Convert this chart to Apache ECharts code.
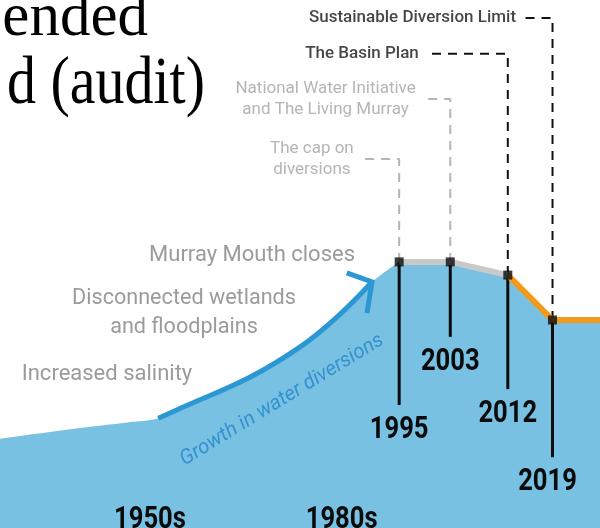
<!DOCTYPE html>
<html><head><meta charset="utf-8">
<script src="https://cdn.jsdelivr.net/npm/echarts@6/dist/echarts.min.js"></script>
<style>html,body{margin:0;padding:0;background:#fff}#c{width:600px;height:528px}</style>
</head><body><div id="c"></div>
<script>
// ---- data (relative diversion index over time) ----
const diversionYears = [1930, 1943.0, 1953.3, 1957.3, 1961.2, 1971.7, 1979.5, 1985.3, 1990.75, 1995];
const diversionIndex = [16.5, 18.6, 20.1, 20.8, 22.9, 28.6, 34.3, 40.0, 46.6, 50.4];
const policyYears = [1995, 2003, 2012, 2019, 2030];
const policyIndex = [50.4, 50.4, 47.9, 39.4, 39.4];
const milestoneYears = [1995, 2003, 2012, 2019];
const milestoneLabels = ['1995', '2003', '2012', '2019'];
const policyNames = ['The cap on\ndiversions', 'National Water Initiative\nand The Living Murray', 'The Basin Plan', 'Sustainable Diversion Limit'];
const decadeLabels = ['1950s', '1980s'];
const decadeYears = [1956, 1986];
const impactLabels = ['Murray Mouth closes', 'Disconnected wetlands\nand floodplains', 'Increased salinity'];
const growthLabel = 'Growth in water diversions';
const titleFragments = ['ended', 'd (audit)'];

// ---- layout (annotation geometry, in axis units) ----
const layout = {
  xMin: 1932.53, xMax: 2026.43,
  stemEnds: [23.3, 36.2, 26.3, 13.4],
  leaderTops: [69.9, 81.25, 89.8, 96.6],
  leaderLeft: [1989.3, 1999.0, 2000.1, 2014.7],
  leaderColors: ['#b5b5b5', '#b5b5b5', '#111', '#111'],
  policyColors: ['#a3a3a3', '#a3a3a3', '#161616', '#161616'],
  policyWeights: ['normal', 'normal', 500, 500],
  policyGap: [9, 9, 13, 9],
  yearShift: [0, 0, 0, -5],
  arrowFrom: 3, arrowTo: 8,
  arrowHead: [[1986.8, 48.3], [1990.75, 46.6], [1989.96, 40.7]],
  decadeY: 1.6
};

const SANS = "Roboto, 'Noto Sans', sans-serif";
const BLUE = '#79c1e3', ARROW = '#2b97d3';

const zip = (xs, ys) => xs.map((x, i) => [x, ys[i]]);
const divData = zip(diversionYears, diversionIndex);
const polData = zip(policyYears, policyIndex);
const valAt = y => policyIndex[policyYears.indexOf(y)];

const series = [];
const base = {type: 'line', symbol: 'none', silent: true, animation: false};
series.push(Object.assign({}, base, {data: divData, smooth: 0.4, lineStyle: {width: 0}, areaStyle: {color: BLUE, opacity: 1}, z: 1}));
// straight segment area, overlapping the last smooth segment to avoid a seam
series.push(Object.assign({}, base, {data: [divData[divData.length - 2]].concat(polData), lineStyle: {width: 0}, areaStyle: {color: BLUE, opacity: 1}, z: 1}));
series.push(Object.assign({}, base, {data: divData.slice(layout.arrowFrom, layout.arrowTo + 1), smooth: 0.4, lineStyle: {width: 5, color: ARROW, cap: 'butt'}, z: 3}));
series.push(Object.assign({}, base, {data: layout.arrowHead, lineStyle: {width: 5, color: ARROW, join: 'miter'}, z: 3}));
milestoneYears.forEach((yr, i) => {
  series.push(Object.assign({}, base, {
    data: [[yr, valAt(yr)], [yr, layout.leaderTops[i]], [layout.leaderLeft[i], layout.leaderTops[i]]],
    lineStyle: {width: 2, color: layout.leaderColors[i], type: [9, 7]}, z: 2
  }));
  series.push(Object.assign({}, base, {
    data: [[yr, valAt(yr)], [yr, layout.stemEnds[i]]],
    lineStyle: {width: 3, color: '#0d0d0d'}, z: 4
  }));
});
series.push(Object.assign({}, base, {data: polData.slice(0, 3), lineStyle: {width: 6, color: '#c9c9c9'}, z: 5}));
series.push(Object.assign({}, base, {data: polData.slice(2), lineStyle: {width: 6, color: '#f39a1c'}, z: 5}));
series.push({type: 'scatter', silent: true, animation: false, symbol: 'rect', symbolSize: 9,
  itemStyle: {color: '#0b0b0b'}, data: milestoneYears.map(y => [y, valAt(y)]), z: 6});
// policy labels
series.push({type: 'scatter', silent: true, animation: false, symbolSize: 0,
  data: milestoneYears.map((y, i) => ({value: [layout.leaderLeft[i], layout.leaderTops[i]], name: policyNames[i],
    label: {color: layout.policyColors[i], distance: layout.policyGap[i],
      rich: {c: {align: 'center', fontFamily: SANS, fontSize: 17, lineHeight: 21, fontWeight: layout.policyWeights[i]}}}})),
  label: {show: true, position: 'left',
    formatter: p => p.name.split('\n').map(s => '{c|' + s + '}').join('\n'),
    fontFamily: SANS, fontSize: 17}, z: 7});

const chart = echarts.init(document.getElementById('c'), null, {renderer: 'canvas'});
chart.setOption({
  animation: false,
  grid: {left: 0, right: 0, top: 0, bottom: 0},
  xAxis: {type: 'value', min: layout.xMin, max: layout.xMax, show: false},
  yAxis: {type: 'value', min: 0, max: 100, show: false},
  series: series
});

// condensed bold labels placed through the axis scales
const px = pt => chart.convertToPixel({gridIndex: 0}, pt);
const BOLD = 'bold 32px ' + SANS;
const graphics = [
  {type: 'text', x: 148, y: 19, style: {text: titleFragments[0], font: '61px "Liberation Serif", "Times New Roman", serif', fill: '#000', align: 'right', verticalAlign: 'middle'}},
  {type: 'text', x: 205, y: 85, scaleY: 1.18, style: {text: titleFragments[1], font: '58px "Liberation Serif", "Times New Roman", serif', fill: '#000', align: 'right', verticalAlign: 'middle'}},
  {type: 'text', x: 355, y: 255, style: {text: impactLabels[0], font: '22px ' + SANS, fill: '#9b9b9b', align: 'right', verticalAlign: 'middle'}},
  {type: 'text', x: 184, y: 313, style: {text: impactLabels[1], font: '21.6px ' + SANS, fill: '#9b9b9b', align: 'center', verticalAlign: 'middle', lineHeight: 29}},
  {type: 'text', x: 107, y: 374, style: {text: impactLabels[2], font: '22px ' + SANS, fill: '#9b9b9b', align: 'center', verticalAlign: 'middle'}},
  {type: 'text', x: 282, y: 400, rotation: 31.5 * Math.PI / 180, z: 10, style: {text: growthLabel, font: 'italic 20.5px ' + SANS, fill: '#3592cf', align: 'center', verticalAlign: 'middle'}}
];
milestoneYears.forEach((y, i) => {
  const p = px([y, layout.stemEnds[i]]);
  graphics.push({type: 'text', x: p[0] + layout.yearShift[i], y: p[1] + 25, scaleX: 0.8, z: 10,
    style: {text: milestoneLabels[i], font: BOLD, fill: '#0b0b0b', align: 'center', verticalAlign: 'middle'}});
});
decadeYears.forEach((y, i) => {
  const p = px([y, layout.decadeY]);
  graphics.push({type: 'text', x: p[0], y: p[1], scaleX: 0.8, z: 10,
    style: {text: decadeLabels[i], font: BOLD, fill: '#0b0b0b', align: 'center', verticalAlign: 'middle'}});
});
chart.setOption({graphic: graphics});
</script></body></html>
